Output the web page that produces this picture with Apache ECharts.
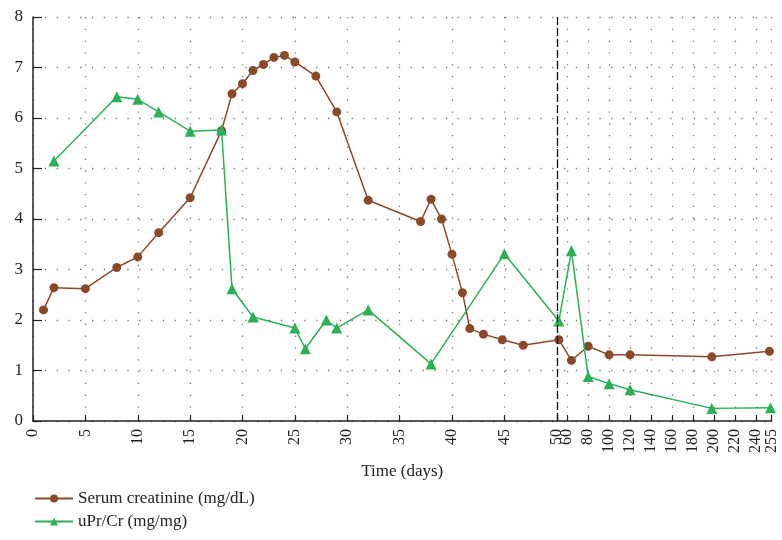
<!DOCTYPE html>
<html><head><meta charset="utf-8">
<script src="https://cdn.jsdelivr.net/npm/echarts@6/dist/echarts.min.js"></script>
<style>html,body{margin:0;padding:0;background:#fff}#c{width:782px;height:540px}</style>
</head><body><div id="c"></div>
<script>
// Days axis is linear 0-50, then compressed 10x from 50 to 255
const tickDays = [0,5,10,15,20,25,30,35,40,45,50,60,80,100,120,140,160,180,200,220,240,255];
const yTicks = [0,1,2,3,4,5,6,7,8];

const scrDays = [1,2,5,8,10,12,15,18,19,20,21,22,23,24,25,27,29,32,37,38,39,40,41,41.7,43,44.8,46.8,52,64,80,100,120,198,253];
const scrVals = [2.2,2.64,2.62,3.04,3.25,3.73,4.42,5.75,6.48,6.68,6.94,7.06,7.2,7.24,7.11,6.83,6.12,4.37,3.95,4.39,4.0,3.3,2.54,1.83,1.72,1.61,1.5,1.61,1.2,1.48,1.31,1.31,1.27,1.38];

const upcDays = [2,8,10,12,15,18,19,21,25,26,28,29,32,38,45,52,64,80,100,120,198,254];
const upcVals = [5.15,6.42,6.37,6.12,5.74,5.76,2.62,2.06,1.84,1.43,2.0,1.84,2.2,1.13,3.31,1.98,3.37,0.88,0.74,0.62,0.25,0.26];

const BREAK = 50, FACTOR = 10;
function toAxis(d){ return d <= BREAK ? d : BREAK + (d - BREAK) / FACTOR; }
function fromAxis(v){ return v <= BREAK ? v : BREAK + (v - BREAK) * FACTOR; }

const font = '"Liberation Serif", "DejaVu Serif", serif';
const brown = '#8a4a2a', green = '#2caf55';
const tickVals = tickDays.map(toAxis);
const lastTick = tickVals[tickVals.length - 1];
const xMax = toAxis(255);

const labelStyle = {rotate: 90, margin: 8, fontSize: 16, color: '#222', fontFamily: font,
  showMaxLabel: true, showMinLabel: true,
  formatter: v => String(Math.round(fromAxis(v)))};

const chart = echarts.init(document.getElementById('c'));
chart.setOption({
  animation: false,
  textStyle: {fontFamily: font},
  grid: {left: 33, right: 10.5, top: 17, bottom: 119, containLabel: false},
  xAxis: [{
    type: 'value', min: 0, max: xMax,
    name: 'Time (days)', nameLocation: 'middle', nameGap: 42,
    nameTextStyle: {fontFamily: font, fontSize: 17, color: '#222'},
    axisLine: {lineStyle: {color: '#222', width: 1.5}},
    axisTick: {inside: true, length: 6, customValues: tickVals, lineStyle: {color: '#222', width: 1.2}},
    axisLabel: Object.assign({customValues: tickVals.slice(0, -1)}, labelStyle),
    splitLine: {show: true, lineStyle: {color: '#777', width: 1.3, type: [1.3, 10.5]}}
  }, {
    type: 'value', min: 0, max: xMax, position: 'bottom', gridIndex: 0,
    axisLine: {show: false}, axisTick: {show: false}, splitLine: {show: false},
    axisLabel: Object.assign({customValues: [lastTick]}, labelStyle)
  }],
  yAxis: {
    type: 'value', min: 0, max: 8, interval: 1,
    axisLine: {show: true, lineStyle: {color: '#222', width: 1.5}},
    axisTick: {show: true, inside: true, length: 9, lineStyle: {color: '#222', width: 1.2}},
    axisLabel: {fontSize: 17, color: '#222', fontFamily: font, margin: 10},
    splitLine: {show: true, lineStyle: {color: '#777', width: 1.3, type: [1.3, 10.5]}}
  },
  legend: {
    orient: 'vertical', left: 29, top: 485, itemGap: 6, itemWidth: 38, itemHeight: 10,
    textStyle: {fontFamily: font, fontSize: 17, color: '#222'},
    data: ['Serum creatinine (mg/dL)', 'uPr/Cr (mg/mg)']
  },
  series: [
    {
      name: 'Serum creatinine (mg/dL)', type: 'line',
      data: scrDays.map((d, i) => [toAxis(d), scrVals[i]]),
      symbol: 'circle', symbolSize: 9,
      lineStyle: {color: brown, width: 1.5}, itemStyle: {color: brown},
      markLine: {
        silent: true, symbol: 'none', label: {show: false},
        lineStyle: {color: '#111', width: 1.3, type: [8, 3]},
        data: [{xAxis: toAxis(50)}]
      },
      z: 3
    },
    {
      name: 'uPr/Cr (mg/mg)', type: 'line',
      data: upcDays.map((d, i) => [toAxis(d), upcVals[i]]),
      symbol: 'triangle', symbolSize: 11,
      lineStyle: {color: green, width: 1.5}, itemStyle: {color: green},
      z: 4
    }
  ]
});
</script>
</body></html>
